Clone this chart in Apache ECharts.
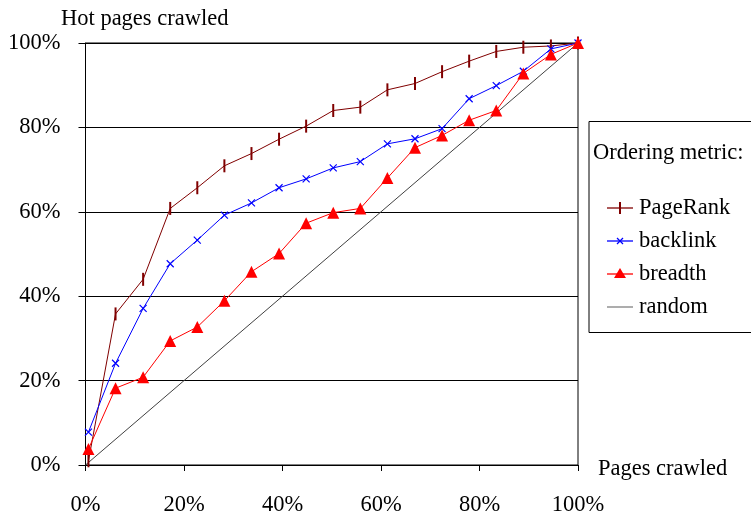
<!DOCTYPE html>
<html><head><meta charset="utf-8">
<script src="https://cdn.jsdelivr.net/npm/echarts@6/dist/echarts.min.js"></script>
<style>html,body{margin:0;padding:0;background:#fff}#c{width:751px;height:517px}</style>
</head><body><div id="c"></div>
<script>
const pagesCrawled = [0.6, 6.1, 11.7, 17.2, 22.7, 28.2, 33.7, 39.3, 44.8, 50.3, 55.8, 61.3, 66.9, 72.4, 77.9, 83.4, 88.9, 94.5, 100];
const pageRank = [1.0, 35.8, 44.0, 60.8, 65.7, 70.9, 73.8, 77.2, 80.3, 84.0, 84.8, 88.9, 90.4, 93.2, 95.7, 98.0, 99.0, 99.3, 100];
const backlink = [7.8, 24.1, 37.1, 47.7, 53.3, 59.2, 62.1, 65.7, 67.8, 70.4, 71.9, 76.1, 77.3, 79.7, 86.8, 89.9, 93.3, 98.6, 100];
const breadth = [3.8, 18.2, 20.8, 29.4, 32.7, 38.9, 45.8, 50.1, 57.3, 59.8, 60.8, 68.0, 75.2, 78.1, 81.7, 84.0, 92.8, 97.3, 100];
const randomX = [0, 100];
const randomY = [0, 100];
const seriesNames = ['PageRank', 'backlink', 'breadth', 'random'];
const legendTitle = 'Ordering metric:';
const yAxisTitle = 'Hot pages crawled';
const xAxisTitle = 'Pages crawled';

const FONT = "'Liberation Serif', 'Times New Roman', serif";
const FS = 22.5;
const pairs = (xs, ys) => xs.map((x, i) => [x, ys[i]]);

const COLORS = { PageRank: '#800000', backlink: '#0000ff', breadth: '#ff0000', random: '#808080' };

// legend drawn with graphic elements
const legendItems = [];
const lx0 = 607, lx1 = 633, lxm = 620, ltx = 639;
const lys = [208, 241, 274, 307];
seriesNames.forEach((name, i) => {
  const y = lys[i];
  const c = COLORS[name];
  legendItems.push({ type: 'line', shape: { x1: lx0, y1: y, x2: lx1, y2: y }, style: { stroke: c, lineWidth: 1.3 } });
  if (name === 'PageRank') {
    legendItems.push({ type: 'line', shape: { x1: lxm, y1: y - 6, x2: lxm, y2: y + 6 }, style: { stroke: c, lineWidth: 2 } });
  } else if (name === 'backlink') {
    legendItems.push({ type: 'polyline', shape: { points: [[lxm - 3, y - 3], [lxm + 3, y + 3]] }, style: { stroke: c, lineWidth: 1.2, fill: null } });
    legendItems.push({ type: 'polyline', shape: { points: [[lxm + 3, y - 3], [lxm - 3, y + 3]] }, style: { stroke: c, lineWidth: 1.2, fill: null } });
  } else if (name === 'breadth') {
    legendItems.push({ type: 'polygon', shape: { points: [[lxm, y - 6], [lxm - 6, y + 4], [lxm + 6, y + 4]] }, style: { fill: c } });
  }
  legendItems.push({ type: 'text', x: ltx, y: y, style: { text: name, font: FS + 'px ' + FONT, fill: '#000', textVerticalAlign: 'middle', verticalAlign: 'middle' } });
});

const chart = echarts.init(document.getElementById('c'));
chart.setOption({
  animation: false,
  backgroundColor: '#fff',
  textStyle: { fontFamily: FONT },
  grid: { left: 85.5, right: 173, top: 43, bottom: 47.5, show: true, borderColor: '#000', borderWidth: 1 },
  xAxis: {
    type: 'value', min: 0, max: 100, interval: 20,
    axisLine: { lineStyle: { color: '#000', width: 1 } },
    axisTick: { show: true, length: 6, lineStyle: { color: '#000' } },
    axisLabel: { formatter: '{value}%', color: '#000', fontFamily: FONT, fontSize: FS, margin: 29 },
    splitLine: { show: false }
  },
  yAxis: {
    type: 'value', min: 0, max: 100, interval: 20,
    axisLine: { show: true, lineStyle: { color: '#000', width: 1 } },
    axisTick: { show: true, length: 7, lineStyle: { color: '#000' } },
    axisLabel: { formatter: '{value}%', color: '#000', fontFamily: FONT, fontSize: FS, margin: 25 },
    splitLine: { show: true, lineStyle: { color: '#000', width: 1 } }
  },
  graphic: [
    { type: 'rect', shape: { x: 589, y: 121.5, width: 180, height: 211 }, style: { fill: 'none', stroke: '#000', lineWidth: 1 } },
    { type: 'text', x: 593, y: 153, style: { text: legendTitle, font: FS + 'px ' + FONT, fill: '#000', textVerticalAlign: 'middle', verticalAlign: 'middle' } },
    { type: 'text', x: 61, y: 19, style: { text: yAxisTitle, font: FS + 'px ' + FONT, fill: '#000', textVerticalAlign: 'middle', verticalAlign: 'middle' } },
    { type: 'text', x: 598, y: 469, style: { text: xAxisTitle, font: FS + 'px ' + FONT, fill: '#000', textVerticalAlign: 'middle', verticalAlign: 'middle' } }
  ].concat(legendItems),
  series: [
    { name: 'random', type: 'line', data: pairs(randomX, randomY), clip: false,
      lineStyle: { width: 1, color: '#404040' }, symbol: 'none', z: 1 },
    { name: 'PageRank', type: 'line', data: pairs(pagesCrawled, pageRank), clip: false,
      lineStyle: { width: 1, color: COLORS.PageRank },
      symbol: 'rect', symbolSize: [2, 13], itemStyle: { color: COLORS.PageRank } },
    { name: 'backlink', type: 'line', data: pairs(pagesCrawled, backlink), clip: false,
      lineStyle: { width: 1, color: COLORS.backlink },
      symbol: 'path://M0,0L10,10M10,0L0,10', symbolSize: 7,
      itemStyle: { color: 'none', borderColor: COLORS.backlink, borderWidth: 1.2 } },
    { name: 'breadth', type: 'line', data: pairs(pagesCrawled, breadth), clip: false,
      lineStyle: { width: 1, color: COLORS.breadth },
      symbol: 'triangle', symbolSize: 12, itemStyle: { color: COLORS.breadth } }
  ]
});
</script></body></html>
